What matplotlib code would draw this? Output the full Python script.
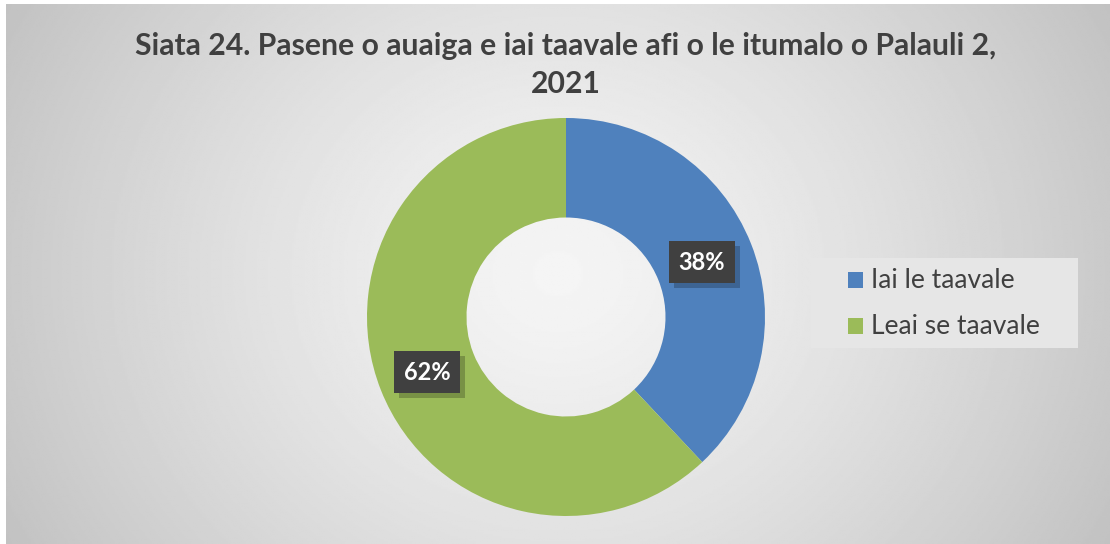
import numpy as np
import matplotlib.pyplot as plt
from matplotlib.patches import Rectangle

# datos
categorias = ["Iai le taavale", "Leai se taavale"]
valores = [38, 62]
colores = ["#4F81BD", "#9BBB59"]
titulo = "Siata 24. Pasene o auaiga e iai taavale afi o le itumalo o Palauli 2,\n2021"

W, H = 1110, 544
fig = plt.figure(figsize=(W / 100, H / 100), dpi=100)
fig.patch.set_facecolor("white")

# fondo con degradado radial
bg = fig.add_axes([6 / W, 0, 1 - 6 / W, (H - 4) / H])
yy, xx = np.mgrid[0:1:300j, 0:1:600j]
r = np.sqrt(((xx - 0.5) * 1.0) ** 2 + ((yy - 0.5) * 0.55) ** 2)
r = r / r.max()
v = 0.96 - 0.20 * r ** 1.3
bg.imshow(v, cmap="gray", vmin=0, vmax=1, aspect="auto", extent=[0, 1, 0, 1])
bg.axis("off")

# dona
cx, cy, rad = 566 / W, 1 - 317 / H, 199
ax = fig.add_axes([cx - rad / W, cy - rad / H, 2 * rad / W, 2 * rad / H])
wedges, _ = ax.pie(valores, colors=colores, startangle=90, counterclock=False,
                   radius=1.0, wedgeprops=dict(width=0.5, edgecolor="none"))
ax.set_xlim(-1, 1)
ax.set_ylim(-1, 1)
ax.set_aspect("equal")
ax.axis("off")

# etiquetas
pos = [(702, 262), (427, 372)]
etiquetas = []
for (px, py), val in zip(pos, valores):
    x = (px - 566) / rad
    y = -(py - 317) / rad
    t = ax.text(x, y, f"{val}%", ha="center", va="center", fontsize=17,
                fontweight="bold", color="white", family="Lato", zorder=5,
                bbox=dict(boxstyle="square,pad=0.42", fc="#404040", ec="none"))
    etiquetas.append(t)

# sombra de las etiquetas (debajo del texto)
fig.canvas.draw()
for t in etiquetas:
    bb = t.get_bbox_patch().get_window_extent()
    (x0, y0), (x1, y1) = ax.transData.inverted().transform([[bb.x0 + 5, bb.y0 - 5], [bb.x1 + 5, bb.y1 - 5]])
    ax.add_patch(Rectangle((x0, y0), x1 - x0, y1 - y0, fc="black", ec="none",
                           alpha=0.22, zorder=4, clip_on=False))

# titulo
fig.text(566 / W, 1 - 65 / H, titulo, ha="center", va="center", fontsize=21.7,
         fontweight="bold", color="#404040", family="Lato", linespacing=1.4)

# leyenda hecha a mano
fig.add_artist(Rectangle((811 / W, 1 - 348 / H), 267 / W, 90 / H,
                         transform=fig.transFigure, fc="#e6e6e6", ec="none"))
for i, (cat, col) in enumerate(zip(categorias, colores)):
    yc = 280 + 46 * i
    fig.add_artist(Rectangle((848 / W, 1 - (yc + 8) / H), 15 / W, 16 / H,
                             transform=fig.transFigure, fc=col, ec="none"))
    fig.text(871 / W, 1 - yc / H, cat, ha="left", va="center", fontsize=19,
             color="#404040", family="Lato")

fig.savefig("out.png", dpi=100)
